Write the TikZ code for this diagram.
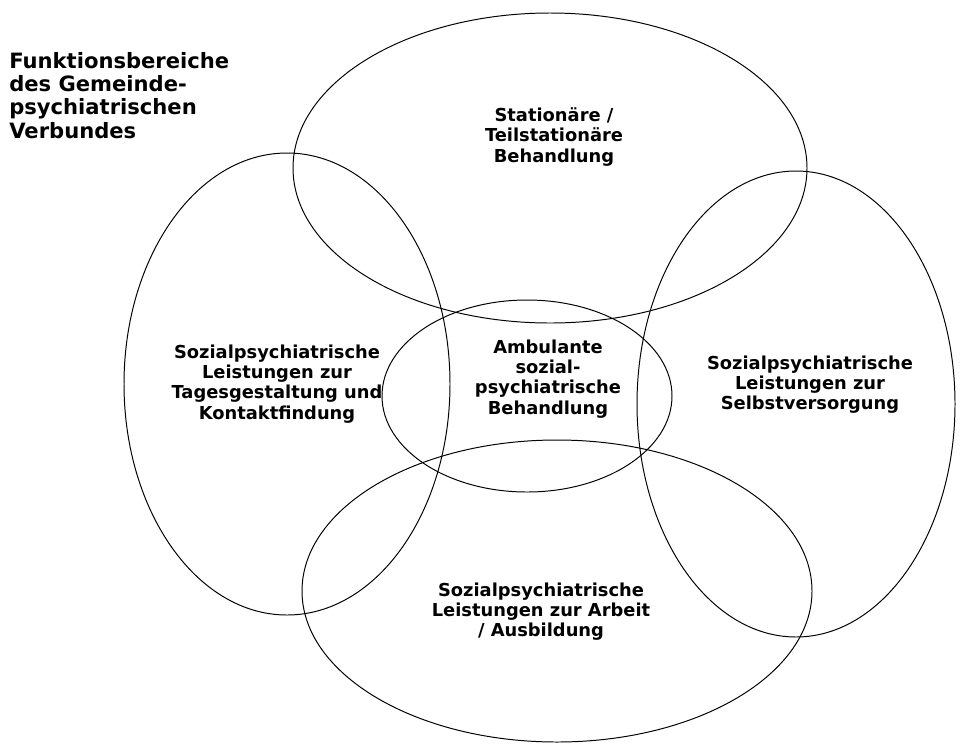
\documentclass[tikz,border=0pt]{standalone}
\usepackage{fontspec}
\setmainfont{DejaVu Sans}
\usepackage{tikz}

\tikzset{
  area/.style={draw=black, line width=0.7pt},
  label/.style={align=center, font=\bfseries\fontsize{12.7}{14.3}\selectfont, inner sep=0pt}
}

\begin{document}
\begin{tikzpicture}[x=0.025cm, y=-0.025cm]
        \useasboundingbox (0, 0) rectangle (960, 744);

        % Ellipses
        \draw [area] (550, 168) ellipse (257 and 155);
        \draw [area] (287, 384) ellipse (163 and 231);
        \draw [area] (796, 404) ellipse (159 and 233);
        \draw [area] (557, 591) ellipse (255 and 151);
        \draw [area] (527, 396) ellipse (145 and 96);

        % Labels
        \node [label, anchor=north west, align=left, font=\bfseries\fontsize{15}{16.6}\selectfont] (title) at (9, 52)
          {Funktionsbereiche\\des Gemeinde-\\psychiatrischen\\Verbundes};
        \node [label] (stat) at (554, 137) {Stationäre /\\Teilstationäre\\Behandlung};
        \node [label] (tag) at (277, 384) {Sozialpsychiatrische\\Leistungen zur\\Tagesgestaltung und\\Kontaktfindung};
        \node [label] (amb) at (548, 379) {Ambulante\\sozial-\\psychiatrische\\Behandlung};
        \node [label] (selbst) at (810, 385) {Sozialpsychiatrische\\Leistungen zur\\Selbstversorgung};
        \node [label] (arbeit) at (541, 612) {Sozialpsychiatrische\\Leistungen zur Arbeit\\/ Ausbildung};
      \end{tikzpicture}
\end{document}
